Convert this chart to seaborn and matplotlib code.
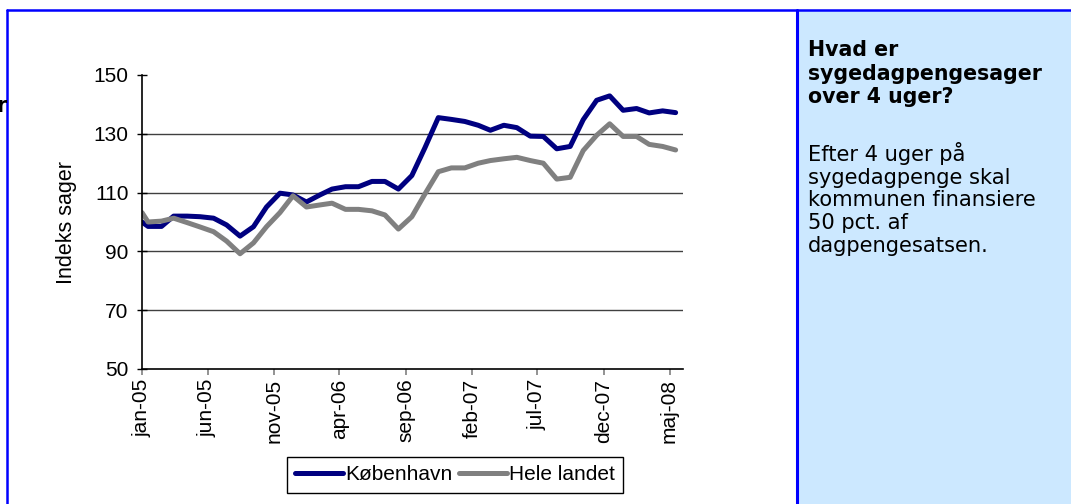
import pandas as pd
import matplotlib
matplotlib.use("Agg")
import matplotlib.pyplot as plt
import seaborn as sns
from matplotlib.lines import Line2D
from matplotlib.patches import Rectangle

# Indeks for sygedagpengesager over 4 uger, jan-05 = 100
datoer = [pd.Timestamp("2005-01-01")] + list(
    pd.date_range("2005-01-01", "2008-05-01", freq="MS") + pd.Timedelta(days=14))

koebenhavn = [100, 98.5, 98.5, 102, 102, 101.8, 101.3, 99, 95.2, 98.4, 105.1,
              109.8, 109.2, 106.8, 109.2, 111.2, 112, 112, 113.8, 113.8, 111.2,
              115.8, 125.2, 135.5, 134.9, 134.2, 132.9, 131.2, 132.9, 132.1,
              129.2, 129.1, 124.9, 125.7, 134.8, 141.4, 142.9, 138, 138.6,
              137.1, 137.8, 137.2]
hele_landet = [103.2, 100, 100.3, 101.3, 99.8, 98.3, 96.7, 93.5, 89.2, 92.9,
               98.4, 103.2, 108.9, 105.1, 105.8, 106.4, 104.3, 104.3, 103.8,
               102.4, 97.6, 101.8, 109.5, 117.1, 118.4, 118.4, 120, 120.9,
               121.5, 122, 120.9, 120, 114.6, 115.2, 124.3, 129.5, 133.4,
               129.1, 129.1, 126.4, 125.7, 124.5]

serier = ["København", "Hele landet"]
farver = {"København": "#000080", "Hele landet": "#808080"}

tick_datoer = pd.date_range("2005-01-01", periods=9, freq="5MS")
tick_labels = ["jan-05", "jun-05", "nov-05", "apr-06", "sep-06",
               "feb-07", "jul-07", "dec-07", "maj-08"]

df = pd.concat([
    pd.DataFrame({"dato": datoer, "indeks": koebenhavn, "serie": serier[0]}),
    pd.DataFrame({"dato": datoer, "indeks": hele_landet, "serie": serier[1]}),
])

sns.set_style("white")
plt.rcParams["font.family"] = ["Liberation Sans", "DejaVu Sans"]
plt.rcParams["text.color"] = "black"
plt.rcParams["axes.labelcolor"] = "black"
plt.rcParams["xtick.color"] = "black"
plt.rcParams["ytick.color"] = "black"

W, H = 1071, 504
fig = plt.figure(figsize=(W / 100, H / 100), dpi=100)

# lyseblå boks til højre
fig.patches.append(Rectangle((797 / W, 0), (W - 797) / W, (H - 10) / H,
                             transform=fig.transFigure, facecolor="#CCE8FF",
                             edgecolor="none", zorder=0))
fig.add_artist(Line2D([797 / W, 797 / W], [0, 1 - 10 / H], color="#0000FF", lw=2.2))
fig.add_artist(Line2D([7 / W, 1], [1 - 10 / H, 1 - 10 / H], color="#0000FF", lw=1.8))
fig.add_artist(Line2D([7 / W, 7 / W], [0, 1 - 10 / H], color="#0000FF", lw=1.8))

ax = fig.add_axes([142 / W, 1 - 369 / H, (683 - 142) / W, (369 - 75) / H])
sns.lineplot(data=df, x="dato", y="indeks", hue="serie", hue_order=serier,
             palette=farver, linewidth=3.6, ax=ax, legend=False)

ax.set_ylim(50, 150)
ax.set_yticks([50, 70, 90, 110, 130, 150])
ax.set_xlim(pd.Timestamp("2005-01-01"), pd.Timestamp("2008-06-01"))
ax.set_xticks(tick_datoer)
ax.set_xticklabels(tick_labels, rotation=90, fontsize=15)
ax.tick_params(axis="y", labelsize=15, direction="inout", length=7.5, width=1,
               colors="black", pad=6, left=True)
ax.tick_params(axis="x", direction="out", length=4, width=1.2, color="#808080",
               labelcolor="black", pad=3, bottom=True)
for g in [70, 90, 110, 130]:
    ax.axhline(g, color="#404040", lw=1, zorder=0)
sns.despine(ax=ax)
for s in ["left", "bottom"]:
    ax.spines[s].set_color("black")
    ax.spines[s].set_linewidth(1.2)
ax.set_xlabel("")
ax.set_ylabel("Indeks sager", fontsize=15.5, color="black")
ax.yaxis.set_label_coords(-0.12, 0.5)

handles = [Line2D([], [], color=farver[s], lw=3.6) for s in serier]
leg = fig.legend(handles, serier, loc="center", ncol=2,
                 bbox_to_anchor=(455 / W, 1 - 475 / H), fontsize=15,
                 frameon=True, fancybox=False, edgecolor="black", framealpha=1,
                 handlelength=2.3, handletextpad=0.1, columnspacing=0.3,
                 borderpad=0.4, borderaxespad=0)
leg.get_frame().set_linewidth(1)

# tekst i boksen
fig.text(808 / W, 1 - 40 / H, "Hvad er\nsygedagpengesager\nover 4 uger?",
         fontsize=14.8, fontweight="bold", family="DejaVu Sans", va="top",
         linespacing=1.22, color="black")
fig.text(808 / W, 1 - 142 / H,
         "Efter 4 uger på\nsygedagpenge skal\nkommunen finansiere\n50 pct. af\ndagpengesatsen.",
         fontsize=15.1, family="DejaVu Sans", va="top", linespacing=1.17,
         color="black")
fig.text(6 / W, 1 - 112 / H, "r", fontsize=14.8, fontweight="bold",
         family="DejaVu Sans", ha="right", va="baseline", color="black")

fig.savefig("out.png", dpi=100)
